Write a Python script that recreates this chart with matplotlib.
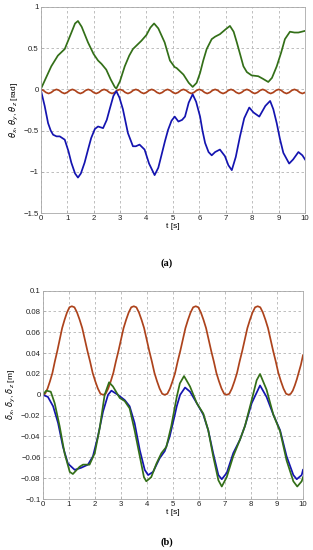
import matplotlib
matplotlib.use("Agg")
import matplotlib.pyplot as plt

# ---------------- data: panel (a) ----------------
t_a_green = [0, 0.2, 0.40, 0.65, 0.91, 1.15, 1.3, 1.41, 1.55, 1.79, 2.0, 2.17, 2.3, 2.48, 2.65, 2.80, 2.86,
             3.0, 3.18, 3.35, 3.49, 3.65, 3.81, 4.0, 4.15, 4.29, 4.45, 4.69, 4.89, 5.07, 5.14, 5.40, 5.6,
             5.75, 5.9, 6.03, 6.15, 6.28, 6.47, 6.6, 6.78, 7.0, 7.16, 7.3, 7.42, 7.55, 7.67, 7.8, 7.98,
             8.23, 8.4, 8.61, 8.75, 8.93, 9.1, 9.24, 9.43, 9.6, 9.75, 10.0]
theta_y = [0, 0.14, 0.28, 0.41, 0.49, 0.68, 0.80, 0.83, 0.76, 0.57, 0.43, 0.35, 0.31, 0.24, 0.12, 0.03, 0.01,
           0.10, 0.28, 0.41, 0.49, 0.54, 0.59, 0.66, 0.75, 0.80, 0.74, 0.57, 0.35, 0.27, 0.26, 0.18, 0.08,
           0.03, 0.08, 0.20, 0.35, 0.49, 0.61, 0.64, 0.67, 0.73, 0.77, 0.70, 0.57, 0.42, 0.28, 0.21, 0.17,
           0.16, 0.13, 0.09, 0.14, 0.28, 0.45, 0.61, 0.70, 0.69, 0.69, 0.71]

t_a_blue = [0, 0.15, 0.28, 0.38, 0.47, 0.6, 0.72, 0.91, 1.05, 1.16, 1.3, 1.41, 1.52, 1.66, 1.8, 1.91, 2.05,
            2.17, 2.36, 2.5, 2.61, 2.75, 2.86, 2.98, 3.11, 3.3, 3.49, 3.6, 3.74, 3.93, 4.1, 4.31, 4.45,
            4.56, 4.7, 4.82, 4.95, 5.07, 5.21, 5.35, 5.46, 5.6, 5.75, 5.88, 6.03, 6.12, 6.22, 6.35, 6.47,
            6.6, 6.78, 6.97, 7.1, 7.23, 7.38, 7.54, 7.7, 7.89, 8.05, 8.27, 8.5, 8.68, 8.8, 8.93, 9.05,
            9.18, 9.4, 9.55, 9.75, 9.9, 10.0]
theta_x = [0, -0.20, -0.41, -0.50, -0.55, -0.57, -0.57, -0.61, -0.75, -0.89, -1.02, -1.07, -1.02, -0.89,
           -0.72, -0.59, -0.48, -0.45, -0.47, -0.37, -0.24, -0.08, -0.02, -0.10, -0.24, -0.53, -0.69,
           -0.69, -0.67, -0.73, -0.90, -1.04, -0.95, -0.81, -0.63, -0.49, -0.38, -0.33, -0.39, -0.37,
           -0.33, -0.16, -0.06, -0.15, -0.33, -0.50, -0.65, -0.76, -0.80, -0.76, -0.73, -0.81, -0.92,
           -0.98, -0.82, -0.57, -0.35, -0.22, -0.28, -0.33, -0.20, -0.14, -0.24, -0.41, -0.60, -0.77,
           -0.90, -0.85, -0.76, -0.80, -0.85]

t_a_red = [i / 10 for i in range(101)]
theta_z = [0, -0.012, -0.037, -0.05, -0.037, -0.012] * 16 + [0, -0.012, -0.037, -0.05, -0.037]

# ---------------- data: panel (b) ----------------
# times of the troughs / crests of delta_z, and the shape of one rising half-wave
t_b_red_ext = [0, 1.12, 2.32, 3.50, 4.69, 5.88, 7.07, 8.26, 9.45, 10.0]
delta_z_rise = [0, 0.001, 0.006, 0.013, 0.021, 0.032, 0.042, 0.053, 0.064, 0.072, 0.079, 0.084, 0.085]
delta_z_end = [0, 0.001, 0.004, 0.009, 0.015, 0.022, 0.029, 0.038]   # last partial rise to t = 10

t_b_blue = [0, 0.2, 0.40, 0.59, 0.78, 0.97, 1.23, 1.48, 1.74, 1.93, 2.12, 2.32, 2.51, 2.64, 2.89, 3.15,
            3.34, 3.53, 3.73, 3.92, 4.05, 4.24, 4.49, 4.69, 4.88, 5.07, 5.15, 5.28, 5.47, 5.66, 5.92, 6.17,
            6.36, 6.55, 6.75, 6.88, 7.07, 7.32, 7.58, 7.77, 8.03, 8.35, 8.60, 8.86, 9.12, 9.37, 9.63, 9.76,
            9.95, 10.0]
delta_x = [0, -0.002, -0.011, -0.027, -0.050, -0.066, -0.072, -0.070, -0.067, -0.059, -0.040, -0.016,
           0.0, 0.004, 0.0, -0.005, -0.011, -0.027, -0.053, -0.072, -0.077, -0.074, -0.061, -0.054,
           -0.040, -0.020, -0.011, 0.0, 0.007, 0.003, -0.008, -0.019, -0.034, -0.056, -0.077, -0.081,
           -0.075, -0.056, -0.043, -0.030, -0.008, 0.009, -0.002, -0.019, -0.034, -0.059, -0.077,
           -0.081, -0.077, -0.072]

t_b_green = [0, 0.14, 0.31, 0.46, 0.65, 0.84, 1.04, 1.16, 1.42, 1.55, 1.80, 2.0, 2.19, 2.38, 2.55, 2.70,
             2.96, 3.15, 3.34, 3.53, 3.73, 3.89, 3.98, 4.17, 4.37, 4.56, 4.75, 4.94, 5.15, 5.27, 5.43,
             5.66, 5.92, 6.17, 6.36, 6.55, 6.75, 6.88, 7.07, 7.32, 7.58, 7.77, 8.03, 8.22, 8.35, 8.60,
             8.86, 9.12, 9.37, 9.63, 9.78, 9.95, 10.0]
delta_y = [0, 0.004, 0.003, -0.008, -0.030, -0.056, -0.074, -0.076, -0.069, -0.067, -0.067, -0.056,
           -0.032, 0.0, 0.012, 0.008, -0.003, -0.006, -0.013, -0.034, -0.059, -0.079, -0.083, -0.079,
           -0.066, -0.056, -0.050, -0.030, -0.002, 0.011, 0.018, 0.008, -0.008, -0.018, -0.034, -0.059,
           -0.082, -0.088, -0.079, -0.059, -0.043, -0.030, -0.005, 0.014, 0.020, 0.005, -0.019, -0.035,
           -0.063, -0.083, -0.088, -0.083, -0.079]

x_ticks = list(range(0, 11))
a_yticks = [-1.5, -1, -0.5, 0, 0.5, 1]
a_ylabels = ["\u22121.5", "\u22121", "\u22120.5", "0", "0.5", "1"]
b_yticks = [-0.1, -0.08, -0.06, -0.04, -0.02, 0, 0.02, 0.04, 0.06, 0.08, 0.1]
b_ylabels = ["\u22120.1", "\u22120.08", "\u22120.06", "\u22120.04", "\u22120.02", "0",
             "0.02", "0.04", "0.06", "0.08", "0.1"]

# assemble delta_z series from read crest/trough times and half-wave shape
t_b_red, delta_z = [], []
n = len(delta_z_rise) - 1
for k in range(len(t_b_red_ext) - 2):
    t0, t1 = t_b_red_ext[k], t_b_red_ext[k + 1]
    shape = delta_z_rise if k % 2 == 0 else delta_z_rise[::-1]
    for j in range(n):
        t_b_red.append(t0 + (t1 - t0) * j / n)
        delta_z.append(shape[j])
t0, t1 = t_b_red_ext[-2], t_b_red_ext[-1]
m = len(delta_z_end) - 1
for j in range(m + 1):
    t_b_red.append(t0 + (t1 - t0) * j / m)
    delta_z.append(delta_z_end[j])

GREEN = "#336f18"
BLUE = "#1414b0"
RED = "#ad431c"

plt.rcParams["font.family"] = ["Liberation Sans", "DejaVu Sans"]
fig = plt.figure(figsize=(3.13, 5.5), dpi=100)

def style(ax, yticks, ylabels, ylim):
    ax.set_xlim(0, 10)
    ax.set_ylim(*ylim)
    ax.set_xticks(x_ticks)
    ax.set_xticklabels([str(v) for v in x_ticks])
    ax.set_yticks(yticks)
    ax.set_yticklabels(ylabels)
    ax.grid(True, linestyle=(0, (3, 3)), color="#b4b4b4", linewidth=0.6)
    for s in ax.spines.values():
        s.set_color("#a8a8a8")
        s.set_linewidth(0.6)
    ax.tick_params(direction="in", length=2, width=0.5, color="#a8a8a8",
                   labelsize=5.6, pad=1.5, labelcolor="#222222")
    ax.set_xlabel("t [s]", fontsize=6, labelpad=1)

ax1 = fig.add_axes([0.130, 0.6127, 0.8445, 0.3746])
ax1.plot(t_a_green, theta_y, color=GREEN, lw=1.25)
ax1.plot(t_a_red, theta_z, color=RED, lw=1.25)
ax1.plot(t_a_blue, theta_x, color=BLUE, lw=1.25)
style(ax1, a_yticks, a_ylabels, (-1.5, 1))
ax1.set_ylabel(r"$\theta_x$, $\theta_y$, $\theta_z$ [rad]", fontsize=6, labelpad=2)

ax2 = fig.add_axes([0.1364, 0.0927, 0.8316, 0.3789])
ax2.plot(t_b_red, delta_z, color=RED, lw=1.25)
ax2.plot(t_b_blue, delta_x, color=BLUE, lw=1.25)
ax2.plot(t_b_green, delta_y, color=GREEN, lw=1.25)
style(ax2, b_yticks, b_ylabels, (-0.1, 0.1))
ax2.set_ylabel(r"$\delta_x$, $\delta_y$, $\delta_z$ [m]", fontsize=6, labelpad=2)

fig.text(167 / 313, 1 - 263 / 550, "(a)", ha="center", va="center", fontsize=7.5,
         fontweight="bold", family=["Liberation Serif", "DejaVu Serif"])
fig.text(167 / 313, 1 - 542 / 550, "(b)", ha="center", va="center", fontsize=7.5,
         fontweight="bold", family=["Liberation Serif", "DejaVu Serif"])

fig.savefig("out.png", dpi=100)
